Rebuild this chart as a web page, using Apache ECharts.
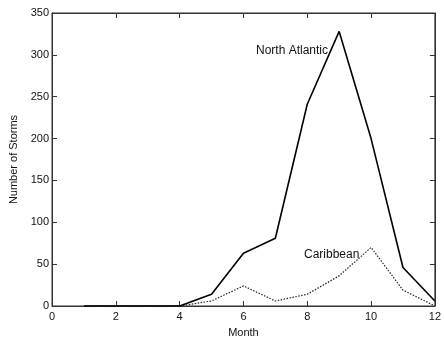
<!DOCTYPE html>
<html>
<head>
<meta charset="utf-8">
<script src="https://cdn.jsdelivr.net/npm/echarts@6/dist/echarts.min.js"></script>
<style>html,body{margin:0;padding:0;background:#fff}#c{width:444px;height:343px}</style>
</head>
<body>
<div id="c"></div>
<script>
const months = [1, 2, 3, 4, 5, 6, 7, 8, 9, 10, 11, 12];
const northAtlantic = [0, 0, 0, 0, 14, 63, 81, 241, 328, 200, 46, 6];
const caribbean = [0, 0, 0, 0, 6, 24, 6, 14, 36, 70, 19, 0];
const xTicks = [0, 2, 4, 6, 8, 10, 12];
const yTicks = [0, 50, 100, 150, 200, 250, 300, 350];

const FONT = '"Liberation Sans Narrow", "Liberation Sans", Arial, sans-serif';
const chart = echarts.init(document.getElementById('c'));
function tick() { return { show: true, inside: true, length: 5, lineStyle: { color: '#333', width: 1 } }; }
function line() { return { show: true, onZero: false, lineStyle: { color: '#333', width: 1 } }; }
const xMin = xTicks[0], xMax = xTicks[xTicks.length - 1];
const yMin = yTicks[0], yMax = yTicks[yTicks.length - 1];
chart.setOption({
  animation: false,
  backgroundColor: '#fff',
  grid: { left: 52, right: 7, top: 13, bottom: 27, containLabel: false, show: true, borderColor: '#333', borderWidth: 1 },
  xAxis: [
    {
      type: 'value', position: 'bottom', min: xMin, max: xMax, interval: 2,
      axisLine: line(), axisTick: tick(), splitLine: { show: false },
      axisLabel: { color: '#111', fontFamily: FONT, fontSize: 11, margin: 5 },
      name: 'Month', nameLocation: 'middle', nameGap: 21,
      nameTextStyle: { color: '#111', fontFamily: FONT, fontSize: 11 }
    },
    {
      type: 'value', position: 'top', min: xMin, max: xMax, interval: 2,
      axisLine: line(), axisTick: tick(), splitLine: { show: false },
      axisLabel: { show: false }
    }
  ],
  yAxis: [
    {
      type: 'value', position: 'left', min: yMin, max: yMax, interval: 50,
      axisLine: line(), axisTick: tick(), splitLine: { show: false },
      axisLabel: { color: '#111', fontFamily: FONT, fontSize: 11, margin: 3 },
      name: 'Number of Storms', nameLocation: 'middle', nameGap: 27,
      nameTextStyle: { color: '#111', fontFamily: FONT, fontSize: 11 }
    },
    {
      type: 'value', position: 'right', min: yMin, max: yMax, interval: 50,
      axisLine: line(), axisTick: tick(), splitLine: { show: false },
      axisLabel: { show: false }
    }
  ],
  series: [
    {
      name: 'North Atlantic', type: 'line', symbol: 'none',
      xAxisIndex: 0, yAxisIndex: 0,
      data: months.map((m, i) => [m, northAtlantic[i]]),
      lineStyle: { color: '#000', width: 1.6, type: 'solid' },
      z: 3
    },
    {
      name: 'Caribbean', type: 'line', symbol: 'none',
      xAxisIndex: 1, yAxisIndex: 1,
      data: months.map((m, i) => [m, caribbean[i]]),
      lineStyle: { color: '#222', width: 1.2, type: [1.5, 1.5] },
      z: 2
    }
  ],
  graphic: [
    { type: 'text', left: 256, top: 45,
      style: { text: 'North Atlantic', fill: '#111', font: '12px ' + FONT } },
    { type: 'text', left: 304, top: 249,
      style: { text: 'Caribbean', fill: '#111', font: '12px ' + FONT } }
  ]
});
</script>
</body>
</html>
